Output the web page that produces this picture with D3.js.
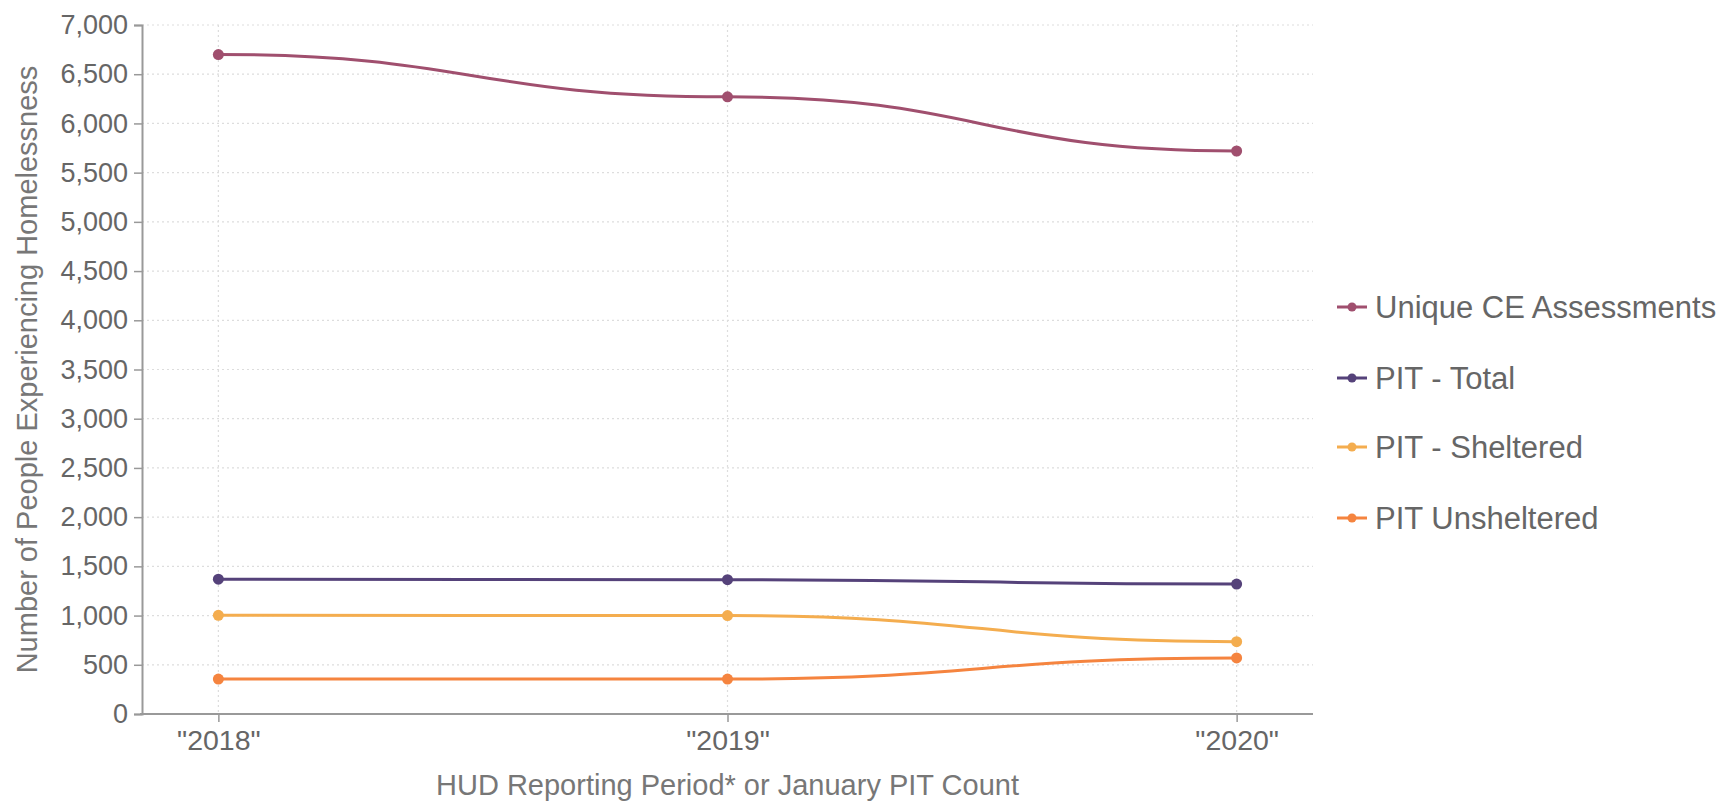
<!DOCTYPE html>
<html>
<head>
<meta charset="utf-8">
<script src="https://cdn.jsdelivr.net/npm/d3@7"></script>
<style>
  html, body { margin: 0; padding: 0; background: #fff; }
  svg { display: block; font-family: "Liberation Sans", Arial, Helvetica, sans-serif; }
</style>
</head>
<body>
<svg id="chart" width="1734" height="802"></svg>
<script>
const categories = ['"2018"', '"2019"', '"2020"'];
const seriesNames = ["Unique CE Assessments", "PIT - Total", "PIT - Sheltered", "PIT Unsheltered"];
const uniqueCE = [6700, 6270, 5720];
const pitTotal = [1370, 1365, 1320];
const pitSheltered = [1003, 1000, 735];
const pitUnsheltered = [355, 355, 570];
const seriesColors = ["#a04f6e", "#55427a", "#f4ad4f", "#f5843f"];
const yTicks = [0, 500, 1000, 1500, 2000, 2500, 3000, 3500, 4000, 4500, 5000, 5500, 6000, 6500, 7000];
const xTitle = "HUD Reporting Period* or January PIT Count";
const yTitle = "Number of People Experiencing Homelessness";

const series = [uniqueCE, pitTotal, pitSheltered, pitUnsheltered].map((vals, i) => ({
  name: seriesNames[i], color: seriesColors[i],
  points: vals.map((v, j) => ({ cat: categories[j], value: v }))
}));

const svg = d3.select("#chart");
const mLeft = 142, mRight = 1313, mTop = 25, mBottom = 714;

const x = d3.scalePoint().domain(categories).range([mLeft, mRight]).padding(0.15);
const y = d3.scaleLinear().domain([0, 7000]).range([mBottom, mTop]);

const textColor = "#666";
const gridColor = "#ddd";

// grid
const grid = svg.append("g");
grid.selectAll("line.h").data(yTicks.filter(d => d > 0)).join("line")
  .attr("x1", mLeft).attr("x2", mRight)
  .attr("y1", d => y(d)).attr("y2", d => y(d))
  .attr("stroke", gridColor).attr("stroke-width", 1.2).attr("stroke-dasharray", "2,3");
grid.selectAll("line.v").data(categories).join("line")
  .attr("x1", d => x(d)).attr("x2", d => x(d))
  .attr("y1", mTop).attr("y2", mBottom)
  .attr("stroke", gridColor).attr("stroke-width", 1.2).attr("stroke-dasharray", "2,3");

// y axis
const yAxis = svg.append("g").attr("transform", `translate(${mLeft},0)`)
  .call(d3.axisLeft(y).tickValues(yTicks).tickFormat(d3.format(",")).tickSize(8).tickPadding(6));
yAxis.select(".domain").attr("stroke", "#999").attr("stroke-width", 2);
yAxis.selectAll(".tick line").attr("stroke", "#999").attr("stroke-width", 1.5);
yAxis.selectAll(".tick text").attr("fill", textColor).attr("font-size", 27)
  .attr("font-family", "'Liberation Sans', Arial, sans-serif");

// x axis
const xAxis = svg.append("g").attr("transform", `translate(0,${mBottom})`)
  .call(d3.axisBottom(x).tickSize(8).tickPadding(8).tickSizeOuter(0));
xAxis.select(".domain").attr("stroke", "#999").attr("stroke-width", 2)
  .attr("d", `M${mLeft - 2},0H${mRight}`);
xAxis.selectAll(".tick line").attr("stroke", "#999").attr("stroke-width", 1.5);
xAxis.selectAll(".tick text").attr("fill", textColor).attr("font-size", 28.5)
  .attr("font-family", "'Liberation Sans', Arial, sans-serif");

// titles
svg.append("text").attr("x", (mLeft + mRight) / 2).attr("y", 795)
  .attr("text-anchor", "middle").attr("fill", "#777").attr("font-size", 29).text(xTitle);
svg.append("text").attr("transform", `translate(37,${(mTop + mBottom) / 2}) rotate(-90)`)
  .attr("text-anchor", "middle").attr("fill", "#777").attr("font-size", 29).text(yTitle);

// lines
const line = d3.line().x(d => x(d.cat)).y(d => y(d.value)).curve(d3.curveBumpX);
const gLines = svg.append("g");
series.forEach(s => {
  gLines.append("path").datum(s.points).attr("d", line)
    .attr("fill", "none").attr("stroke", s.color).attr("stroke-width", 3);
  gLines.selectAll(null).data(s.points).join("circle")
    .attr("cx", d => x(d.cat)).attr("cy", d => y(d.value)).attr("r", 5.5)
    .attr("fill", s.color);
});

// legend
const legend = svg.append("g");
const legY = [307, 378, 447, 518];
series.forEach((s, i) => {
  const g = legend.append("g").attr("transform", `translate(1337,${legY[i]})`);
  g.append("line").attr("x1", 0).attr("x2", 30).attr("y1", 0).attr("y2", 0)
    .attr("stroke", s.color).attr("stroke-width", 3);
  g.append("circle").attr("cx", 15).attr("cy", 0).attr("r", 4.5).attr("fill", s.color);
  g.append("text").attr("x", 38).attr("y", 0).attr("dy", "0.35em")
    .attr("fill", textColor).attr("font-size", 31).text(s.name);
});
</script>
</body>
</html>
